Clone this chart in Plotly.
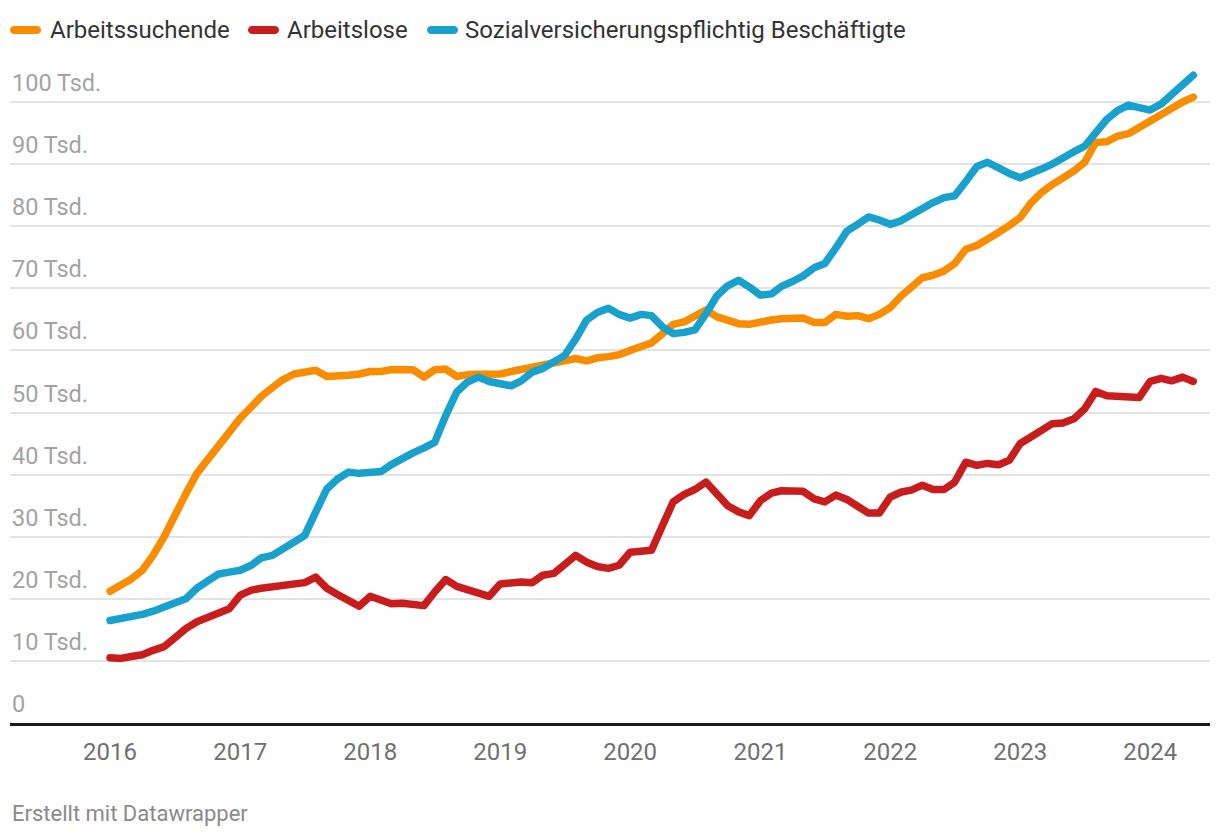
import pandas as pd
import plotly.graph_objects as go

# ---------------- data (Tsd., monthly from Jan 2016 to May 2024) ----------------
months = pd.date_range("2016-01-01", periods=101, freq="MS")

arbeitssuchende = [
    21.2, 22.2, 23.2, 24.6, 27.0, 30.0, 33.7, 36.9, 40.2, 42.4, 44.7, 47.1,
    49.1, 50.9, 52.6, 54.0, 55.3, 56.2, 56.5, 56.8, 55.8, 55.8, 56.0, 56.2,
    56.6, 56.6, 56.9, 56.9, 56.9, 55.7, 56.9, 57.0, 55.8, 56.1, 56.1, 56.0,
    56.2, 56.6, 56.9, 57.2, 57.6, 57.8, 58.3, 58.7, 58.3, 58.8, 59.0, 59.3,
    60.0, 60.7, 61.2, 62.7, 64.2, 64.6, 65.6, 66.5, 65.4, 64.9, 64.3, 64.2,
    64.4, 64.9, 65.1, 65.3, 65.2, 64.5, 64.5, 65.8, 65.5, 65.6, 65.1, 65.8,
    66.9, 68.8, 70.2, 71.7, 72.1, 72.8, 74.0, 76.3, 76.9, 78.1, 79.0, 80.1,
    81.4, 83.8, 85.4, 86.7, 87.7, 88.9, 90.3, 93.5, 93.6, 94.5, 94.9, 95.9,
    97.0, 98.3, 99.2, 100.0, 100.8,
]

arbeitslose = [
    10.5, 10.4, 10.7, 11.0, 11.7, 12.3, 13.7, 15.2, 16.3, 17.0, 17.7, 18.4,
    20.6, 21.4, 21.7, 22.0, 22.2, 22.4, 22.6, 23.5, 21.7, 20.7, 19.8, 18.8,
    20.4, 19.8, 19.2, 19.3, 19.2, 18.9, 21.1, 23.1, 22.0, 21.5, 20.9, 20.4,
    22.4, 22.7, 22.7, 22.6, 23.8, 24.1, 25.6, 27.0, 25.9, 25.2, 24.9, 25.4,
    27.5, 27.8, 27.8, 31.8, 35.6, 36.8, 37.6, 38.8, 36.9, 35.0, 34.0, 33.4,
    35.8, 37.0, 37.4, 37.5, 37.3, 36.1, 35.6, 36.7, 36.0, 34.9, 33.8, 33.8,
    36.4, 37.2, 37.5, 38.3, 37.6, 37.6, 38.8, 42.0, 41.5, 41.8, 41.6, 42.3,
    45.0, 46.1, 47.1, 48.2, 48.3, 49.0, 50.6, 53.4, 52.7, 52.6, 52.4, 52.4,
    55.0, 55.5, 55.1, 55.7, 55.0,
]

sv_beschaeftigte = [
    16.5, 16.8, 17.1, 17.5, 18.0, 18.6, 19.1, 20.0, 21.7, 23.0, 24.0, 24.3,
    24.6, 25.4, 26.6, 27.0, 28.0, 29.1, 30.2, 34.0, 37.7, 39.3, 40.4, 40.2,
    40.4, 40.5, 41.6, 42.7, 43.5, 44.3, 45.2, 49.5, 53.3, 54.9, 55.7, 55.0,
    54.5, 54.3, 55.1, 56.5, 57.1, 58.1, 59.2, 61.8, 64.9, 66.1, 66.8, 65.8,
    65.2, 65.8, 65.6, 63.8, 62.7, 62.9, 63.3, 65.9, 68.8, 70.4, 71.3, 70.2,
    68.9, 69.1, 70.3, 71.1, 72.0, 73.3, 74.0, 76.5, 79.2, 80.3, 81.5, 81.0,
    80.3, 80.9, 81.9, 82.8, 83.8, 84.6, 84.9, 87.2, 89.6, 90.3, 89.3, 88.5,
    87.8, 88.4, 89.2, 90.0, 91.1, 92.0, 92.9, 94.9, 97.2, 98.6, 99.5, 99.1,
    98.7, 99.7, 101.2, 102.8, 104.3,
]

series_names = ["Arbeitssuchende", "Arbeitslose", "Sozialversicherungspflichtig Beschäftigte"]
series_values = [arbeitssuchende, arbeitslose, sv_beschaeftigte]
series_colors = ["#fa8c00", "#c71e1d", "#18a1cd"]

year_ticks = [f"{y}-01-01" for y in range(2016, 2025)]
year_labels = [str(y) for y in range(2016, 2025)]

y_tick_vals = [0, 10, 20, 30, 40, 50, 60, 70, 80, 90, 100]
y_tick_labels = ["0"] + [f"{v} Tsd." for v in y_tick_vals[1:]]

# ---------------- figure ----------------
W, H = 1220, 840
ML, MR, MT, MB = 10, 10, 61, 117
PW = W - ML - MR
PH = H - MT - MB


def px_to_paper_x(px):
    return (px - ML) / PW


def px_to_paper_y(py):
    return (H - MB - py) / PH


FONT = "Roboto, 'Noto Sans', Arial, sans-serif"

fig = go.Figure()
for name, vals, col in zip(series_names, series_values, series_colors):
    fig.add_trace(go.Scatter(
        x=months, y=vals, name=name, mode="lines",
        line=dict(color=col, width=7.5),
        showlegend=False, hoverinfo="skip",
    ))

annotations = []
shapes = []

# y tick labels (inside, above grid lines)
for v, lab in zip(y_tick_vals, y_tick_labels):
    annotations.append(dict(
        x=0, xref="paper", xanchor="left",
        y=v, yref="y", yanchor="bottom", yshift=3,
        text=lab, showarrow=False,
        font=dict(family=FONT, size=23.5, color="#a3a3a3"),
    ))

# custom legend
legend_swatch_px = [10, 248, 427]
legend_text_px = [48, 285, 463]
legend_y = px_to_paper_y(30)
for name, col, sx, tx in zip(series_names, series_colors, legend_swatch_px, legend_text_px):
    w, r = 31, 4
    path = (f"M{r},-{r} L{w-r},-{r} C{w-r+2.2},-{r} {w},-2.2 {w},0 "
            f"C{w},2.2 {w-r+2.2},{r} {w-r},{r} L{r},{r} "
            f"C1.8,{r} 0,2.2 0,0 C0,-2.2 1.8,-{r} {r},-{r} Z")
    shapes.append(dict(
        type="path", xref="paper", yref="paper",
        xsizemode="pixel", ysizemode="pixel",
        xanchor=px_to_paper_x(sx), yanchor=legend_y,
        path=path, fillcolor=col, line=dict(width=0), layer="above",
    ))
    annotations.append(dict(
        x=px_to_paper_x(tx), xref="paper", xanchor="left",
        y=legend_y, yref="paper", yanchor="middle",
        text=name, showarrow=False,
        font=dict(family=FONT, size=24, color="#333333"),
    ))

# credit
annotations.append(dict(
    x=0, xref="paper", xanchor="left",
    y=px_to_paper_y(814), yref="paper", yanchor="middle",
    text="Erstellt mit Datawrapper", showarrow=False,
    font=dict(family=FONT, size=22, color="#8a8a8a"),
))

fig.update_layout(
    width=W, height=H,
    margin=dict(l=ML, r=MR, t=MT, b=MB, pad=0),
    paper_bgcolor="white", plot_bgcolor="white",
    font=dict(family=FONT),
    showlegend=False,
    annotations=annotations,
    shapes=shapes,
    xaxis=dict(
        type="date",
        range=["2015-03-26", "2024-06-17"],
        tickvals=year_ticks, ticktext=year_labels,
        showgrid=False, zeroline=False,
        showline=True, linecolor="#1a1a1a", linewidth=2.5,
        ticks="", ticklabelstandoff=5,
        tickfont=dict(family=FONT, size=24, color="#707070"),
        fixedrange=True,
    ),
    yaxis=dict(
        range=[0, PH / 6.21],
        tickvals=y_tick_vals[1:],
        showticklabels=False,
        showgrid=True, gridcolor="#e3e3e3", gridwidth=2,
        zeroline=False, showline=False, ticks="",
        fixedrange=True,
    ),
)

post = """
document.body.style.margin = '0';
document.body.style.overflow = 'hidden';
var gd = document.getElementById('{plot_id}');
gd.querySelectorAll('.scatterlayer .js-line').forEach(function(p){
  p.style.strokeLinejoin = 'round';
  p.style.strokeLinecap = 'round';
});
"""

fig.write_html("out.html", post_script=post, config={"displayModeBar": False})
